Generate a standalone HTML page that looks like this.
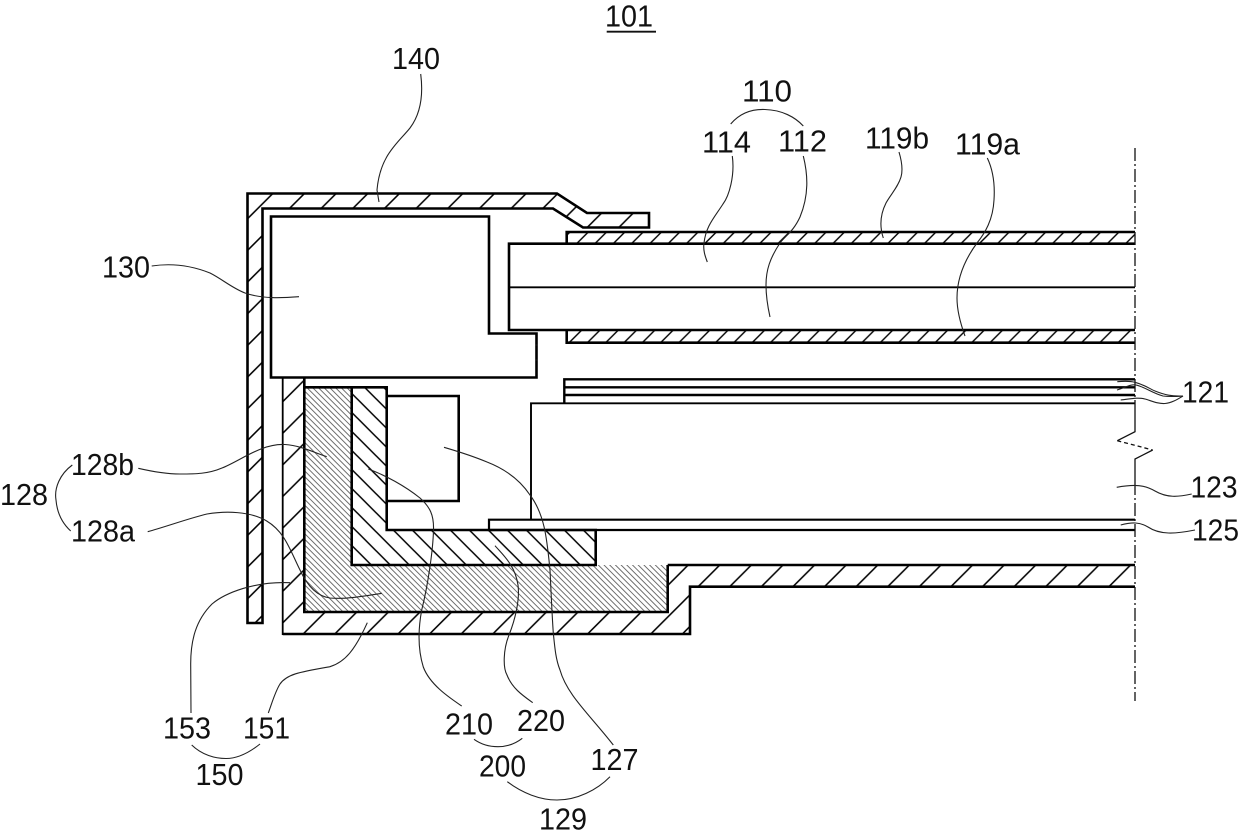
<!DOCTYPE html>
<html><head><meta charset="utf-8"><style>
html,body{margin:0;padding:0;background:#fff}
svg{display:block}
text{font-family:"Liberation Sans",sans-serif;font-size:31px;fill:#111}
</style></head><body>
<svg width="1240" height="835" viewBox="0 0 1240 835" xmlns="http://www.w3.org/2000/svg">
<defs>
<pattern id="hF" patternUnits="userSpaceOnUse" x="22.9" y="0" width="31.67" height="31.67"><path d="M0 31.67L31.67 0M-2 2L2 -2M29.67 33.67L33.67 29.67" stroke="#000" stroke-width="1.5"/></pattern>
<pattern id="hB" patternUnits="userSpaceOnUse" x="20.8" y="0" width="31.6" height="31.6"><path d="M0 31.6L31.6 0M-2 2L2 -2M29.6 33.6L33.6 29.6" stroke="#000" stroke-width="1.5"/></pattern>
<pattern id="hS" patternUnits="userSpaceOnUse" x="15.1" y="0" width="18.3" height="18.3"><path d="M0 18.3L18.3 0M-2 2L2 -2M16.3 20.3L20.3 16.3" stroke="#000" stroke-width="1.4"/></pattern>
<pattern id="hN" patternUnits="userSpaceOnUse" x="15.3" y="0" width="19" height="19"><path d="M0 0L19 19M-2 17L2 21M17 -2L21 2" stroke="#000" stroke-width="1.5"/></pattern>
<clipPath id="cG"><path d="M304.3 387.3H351.7V565H667.7V612H304.3Z"/></clipPath>
</defs>

<!-- hatched fills -->
<path d="M247.5 193.5H557L587 213H649V227.5H583L553 208.5H262.5V623H247.5Z" fill="url(#hF)"/>
<path d="M282.7 377.5H304.3V612H667.7V565H1135V586.7H690V634H282.7Z" fill="url(#hB)"/>
<rect x="566.7" y="232" width="568.3" height="12" fill="url(#hS)"/>
<rect x="566.7" y="330" width="568.3" height="12.7" fill="url(#hS)"/>
<g clip-path="url(#cG)"><path fill="none" stroke="#6a6a6a" stroke-width="0.95" d="M71.3 380l240 240M77 380l240 240M82.7 380l240 240M88.4 380l240 240M94.1 380l240 240M99.8 380l240 240M105.5 380l240 240M111.2 380l240 240M116.9 380l240 240M122.6 380l240 240M128.3 380l240 240M134 380l240 240M139.7 380l240 240M145.4 380l240 240M151.1 380l240 240M156.8 380l240 240M162.5 380l240 240M168.2 380l240 240M173.9 380l240 240M179.6 380l240 240M185.3 380l240 240M191 380l240 240M196.7 380l240 240M202.4 380l240 240M208.1 380l240 240M213.8 380l240 240M219.5 380l240 240M225.2 380l240 240M230.9 380l240 240M236.6 380l240 240M242.3 380l240 240M248 380l240 240M253.7 380l240 240M259.4 380l240 240M265.1 380l240 240M270.8 380l240 240M276.5 380l240 240M282.2 380l240 240M287.9 380l240 240M293.6 380l240 240M299.3 380l240 240M305 380l240 240M310.7 380l240 240M316.4 380l240 240M322.1 380l240 240M327.8 380l240 240M333.5 380l240 240M339.2 380l240 240M344.9 380l240 240M350.6 380l240 240M356.3 380l240 240M362 380l240 240M367.7 380l240 240M373.4 380l240 240M379.1 380l240 240M384.8 380l240 240M390.5 380l240 240M396.2 380l240 240M401.9 380l240 240M407.6 380l240 240M413.3 380l240 240M419 380l240 240M424.7 380l240 240M430.4 380l240 240M436.1 380l240 240M441.8 380l240 240M447.5 380l240 240M453.2 380l240 240M458.9 380l240 240M464.6 380l240 240M470.3 380l240 240M476 380l240 240M481.7 380l240 240"/></g>
<path d="M351.7 387.3H386.7V530H595.7V565H351.7Z" fill="url(#hN)"/>

<g fill="none" stroke="#000" stroke-width="2.6" stroke-linejoin="miter">
<!-- 140 frame -->
<path d="M247.5 193.5H557L587 213H649V227.5H583L553 208.5H262.5V623H247.5Z"/>
<!-- 130 -->
<path d="M271 216.5H489V333.5H536.5V377.5H271Z"/>
<!-- display panel -->
<path d="M1135 243.7H509V330H1135"/>
<path d="M509 287.3H1135" stroke-width="1.8"/>
<!-- 119b / 119a -->
<path d="M1135 232H566.7V243.7"/>
<path d="M566.7 330V342.7H1135"/>
<!-- 151 -->
<path d="M304.3 377.5V612H667.7V565"/>
<path d="M282.7 634H690V586.7H1135"/>
<path d="M667.7 565H1135"/>
<path d="M282.7 377.5V635" stroke-width="1.8"/>
<!-- 128/200 -->
<path d="M304.3 387.3H386.7V530H595.7V565H351.7V387.3"/>
<!-- 127 -->
<path d="M386.7 396H458.7V501H386.7"/>
<!-- sheets -->
<path d="M564.3 403V379.3H1135M564.3 387.3H1135M564.3 395H1135" stroke-width="2.4"/>
<path d="M531 520V403.3H1135" stroke-width="1.9"/>
<!-- 125 -->
<path d="M1135 519.7H489V530H1135" stroke-width="2.2"/>
</g>

<!-- center line -->
<g fill="none" stroke="#111" stroke-width="1.3">
<path d="M1135 148V405" stroke-dasharray="13 3 2 3"/>
<path d="M1135 405V431.7L1117.3 440.7"/>
<path d="M1117.3 440.7L1152.7 450" stroke-dasharray="4 3"/>
<path d="M1152.7 450L1135 459V482"/>
<path d="M1135 482V701" stroke-dasharray="13 3 2 3"/>
<path d="M537.5 345h-2M537.5 360h-2"/>
</g>

<!-- leaders -->
<g fill="none" stroke="#222" stroke-width="1.1">
<path d="M420.7 74C423 92 422 112 410 128C398 143 380 155 377 190L379 202"/>
<path d="M732.3 156C735 176 729 196 723 204C714 218 706 226 704 243C703 250 705 256 707.3 262"/>
<path d="M803.3 156C808 175 809 195 800 217C793 232 786 235 780 243C770 258 766 270 766 285C766 297 768 308 770 317"/>
<path d="M899 152C902 162 903 170 901 177C898 187 891 194 886 203C881 213 879 225 883.3 238"/>
<path d="M987.3 158C993 170 995 185 994 200C993 220 985 233 977 243C966 258 957 277 957 298C957 312 961 325 965 336"/>
<path d="M730.7 124C740 113 752 109 765 109.5C782 110 795 117 803.3 126"/>
<path d="M151.7 266C165 264 185 263 210 273C222 279 232 288 245 293C262 299 282 298 299 296.7"/>
<path d="M138.3 468.3C150 471 165 474 180 474C195 474 208 474 222 468C240 461 262 443 285 444.5C300 445.5 313 452 326.7 456.7"/>
<path d="M147.7 531.7C165 527 190 518 207 514C225 511 250 511 266.7 521C285 532 290 550 300 570C306 583 315 596 330 598C345 599.5 365 596 381.7 593.3"/>
<path d="M72.3 465C60 474 54 488 56 500C57 512 62 523 70.7 531"/>
<path d="M191 713L190.7 665C190.5 640 196 620 212 604C225 593 255 581 290 582.7"/>
<path d="M268.3 713C272 703 275 692 280 684C287 674 300 672 330 666.7C345 662 355 650 367.3 622.7"/>
<path d="M368.3 469C385 475 405 486 420 498C430 507 434 515 433.5 530C433 550 428 585 421.7 610C418 630 418 650 423.3 667C430 685 450 698 461.7 706"/>
<path d="M495 545.7C503 555 515 565 518 585C520 600 515 620 509 635C503 650 503 668 507 675C512 688 522 695 532.7 702.7"/>
<path d="M444 447.3C460 452 475 457 487 462C505 469 520 480 530 495C545 515 547 540 550 570C551 590 552 615 553.3 633C555 650 556 660 560 670C567 695 590 715 613.3 745"/>
<path d="M191.7 745C202 755 215 758.5 226 758.5C238 758.5 250 752 260 744"/>
<path d="M474 739.3C482 745 490 746.7 498 746.7C507 746.7 515 744 522.3 738.3"/>
<path d="M507.3 781.7C522 793 540 800 557 800C577 800 597 790 610 776.7"/>
<path d="M1117.3 381.7C1125 381 1130 381 1135 382.3C1145 385 1150 389 1155 391C1165 395 1172 396.5 1183 396"/>
<path d="M1117 390C1125 388 1130 384 1136 385C1145 387 1152 393 1163 396C1170 397 1176 396.5 1183 396"/>
<path d="M1120.7 400C1130 399 1138 397 1145 399C1152 401 1158 404 1165 403.5C1172 403 1178 399 1183 396"/>
<path d="M1116.7 487.3C1135 484 1145 485 1155 491C1167 498 1178 497 1191.7 494"/>
<path d="M1120.7 525C1132 522 1140 522 1148 527C1160 535 1175 534 1195 530"/>
</g>

<path d="M606.7 31.7H656" stroke="#111" stroke-width="1.8" fill="none"/>

<!-- labels -->
<g>
<text x="605" y="26.7" textLength="48" lengthAdjust="spacingAndGlyphs">101</text>
<text x="392" y="69" textLength="48" lengthAdjust="spacingAndGlyphs">140</text>
<text x="742" y="101.7" textLength="50" lengthAdjust="spacingAndGlyphs">110</text>
<text x="702" y="152.3" textLength="49" lengthAdjust="spacingAndGlyphs">114</text>
<text x="778" y="151.7" textLength="49" lengthAdjust="spacingAndGlyphs">112</text>
<text x="865" y="148.3" textLength="64" lengthAdjust="spacingAndGlyphs">119b</text>
<text x="955" y="154.3" textLength="65" lengthAdjust="spacingAndGlyphs">119a</text>
<text x="102" y="277.7" textLength="48" lengthAdjust="spacingAndGlyphs">130</text>
<text x="71" y="475" textLength="63" lengthAdjust="spacingAndGlyphs">128b</text>
<text x="0" y="505" textLength="48" lengthAdjust="spacingAndGlyphs">128</text>
<text x="71" y="541.7" textLength="64" lengthAdjust="spacingAndGlyphs">128a</text>
<text x="163" y="738.3" textLength="48" lengthAdjust="spacingAndGlyphs">153</text>
<text x="243" y="738.3" textLength="47" lengthAdjust="spacingAndGlyphs">151</text>
<text x="195.5" y="785" textLength="48" lengthAdjust="spacingAndGlyphs">150</text>
<text x="445" y="734.3" textLength="48" lengthAdjust="spacingAndGlyphs">210</text>
<text x="517" y="731" textLength="48" lengthAdjust="spacingAndGlyphs">220</text>
<text x="479" y="776.7" textLength="47" lengthAdjust="spacingAndGlyphs">200</text>
<text x="590.5" y="770" textLength="48" lengthAdjust="spacingAndGlyphs">127</text>
<text x="539" y="829.3" textLength="48" lengthAdjust="spacingAndGlyphs">129</text>
<text x="1182" y="402.7" textLength="47" lengthAdjust="spacingAndGlyphs">121</text>
<text x="1190.5" y="497.7" textLength="47" lengthAdjust="spacingAndGlyphs">123</text>
<text x="1192" y="540.7" textLength="47" lengthAdjust="spacingAndGlyphs">125</text>
</g>
</svg>
</body></html>
